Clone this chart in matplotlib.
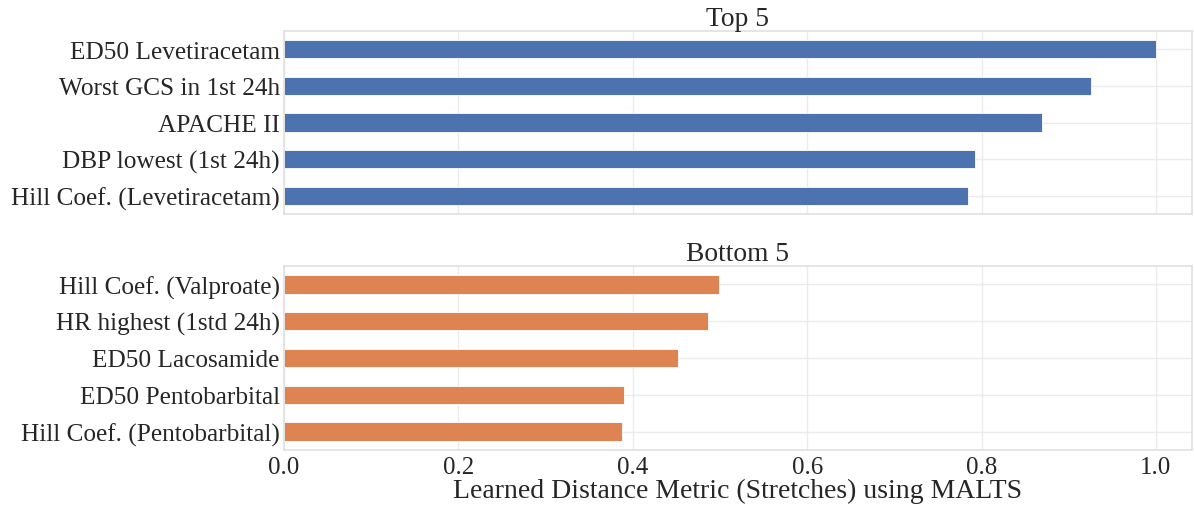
import matplotlib
matplotlib.use("Agg")
import matplotlib.pyplot as plt

top_labels = ["ED50 Levetiracetam", "Worst GCS in 1st 24h", "APACHE II",
              "DBP lowest (1st 24h)", "Hill Coef. (Levetiracetam)"]
top_values = [1.0, 0.925, 0.869, 0.793, 0.785]
bottom_labels = ["Hill Coef. (Valproate)", "HR highest (1std 24h)", "ED50 Lacosamide",
                 "ED50 Pentobarbital", "Hill Coef. (Pentobarbital)"]
bottom_values = [0.4986, 0.486, 0.4516, 0.390, 0.3877]
xticks = [0.0, 0.2, 0.4, 0.6, 0.8, 1.0]

plt.rcParams['font.family'] = ['Liberation Serif', 'DejaVu Serif']
plt.rcParams['text.color'] = '#262626'
plt.rcParams['axes.labelcolor'] = '#262626'
plt.rcParams['xtick.color'] = '#262626'
plt.rcParams['ytick.color'] = '#262626'

W, H = 1194, 506
fig = plt.figure(figsize=(W / 100, H / 100), dpi=100)
left, right = 284 / W, 1192 / W
ax1 = fig.add_axes([left, 1 - 215 / H, right - left, (215 - 32) / H])
ax2 = fig.add_axes([left, 1 - 451 / H, right - left, (451 - 267) / H])

xmax = (1192 - 285) / 871.0

def draw(ax, labels, values, color, title):
    n = len(values)
    pos = list(range(n))[::-1]
    ax.barh(pos, values, height=0.5, color=color, edgecolor='#ffffff', linewidth=0.6, zorder=2)
    ax.set_yticks(pos)
    ax.set_yticklabels(labels, fontsize=18.2)
    ax.set_ylim(-0.5, n - 0.5)
    ax.set_xlim(0, xmax)
    ax.set_xticks(xticks)
    ax.grid(True, color='#ebebeb', linewidth=1.0, zorder=0)
    ax.set_axisbelow(True)
    for s in ax.spines.values():
        s.set_color('#e0e0e0')
        s.set_linewidth(1.2)
    ax.tick_params(length=0, pad=3)
    ax.set_title(title, fontsize=19.8, pad=1)

draw(ax1, top_labels, top_values, '#4c72b0', 'Top 5')
draw(ax2, bottom_labels, bottom_values, '#dd8452', 'Bottom 5')
ax1.tick_params(axis='x', labelbottom=False)
ax2.tick_params(axis='x', labelsize=18, pad=4)
ax2.set_xticklabels(["0.0", "0.2", "0.4", "0.6", "0.8", "1.0"])
ax2.set_xlabel("Learned Distance Metric (Stretches) using MALTS", fontsize=20, labelpad=0)

fig.savefig("out.png", dpi=100)
